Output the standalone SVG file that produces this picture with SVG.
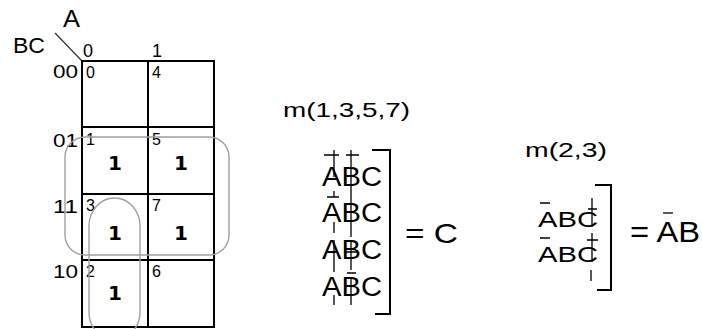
<svg xmlns="http://www.w3.org/2000/svg" width="702" height="329" viewBox="0 0 702 329">
<style>
text{font-family:"Liberation Sans",Arial,sans-serif;fill:#000}
.lbl{font-size:18px}
.num{font-size:16px}
.one{font-family:"DejaVu Sans",Verdana,sans-serif;font-size:20px;font-weight:bold;text-anchor:middle}
.grid{fill:none;stroke:#000;stroke-width:2}
.loop{fill:none;stroke:#a0a0a0;stroke-width:1.4}
.mk{stroke:#000;stroke-width:1.3;fill:none}
.br{fill:none;stroke:#000;stroke-width:2}
</style>
<rect width="702" height="329" fill="#fff"/>
<g id="header">
<text x="63" y="27" font-size="23" textLength="17" lengthAdjust="spacingAndGlyphs">A</text>
<text x="13" y="53" font-size="22" textLength="32" lengthAdjust="spacingAndGlyphs">BC</text>
<line x1="55" y1="33" x2="82" y2="61" stroke="#333" stroke-width="1.2"/>
<text class="lbl" x="83" y="57">0</text>
<text class="lbl" x="152" y="57">1</text>
<text class="lbl" x="53" y="78" textLength="25" lengthAdjust="spacingAndGlyphs">00</text>
<text class="lbl" x="53" y="147" textLength="25" lengthAdjust="spacingAndGlyphs">01</text>
<text class="lbl" x="53" y="213" textLength="25" lengthAdjust="spacingAndGlyphs">11</text>
<text class="lbl" x="53" y="278" textLength="25" lengthAdjust="spacingAndGlyphs">10</text>
</g>
<g id="grid">
<rect class="grid" x="82" y="61" width="132" height="266"/>
<line class="grid" x1="148" y1="61" x2="148" y2="327"/>
<line class="grid" x1="82" y1="127" x2="214" y2="127"/>
<line class="grid" x1="82" y1="194" x2="214" y2="194"/>
<line class="grid" x1="82" y1="260" x2="214" y2="260"/>
</g>
<g id="cell0"><text class="num" x="86" y="78">0</text></g>
<g id="cell4"><text class="num" x="152" y="78">4</text></g>
<g id="cell1"><text class="num" x="86" y="145">1</text><text class="one" x="115" y="170">1</text></g>
<g id="cell5"><text class="num" x="152" y="145">5</text><text class="one" x="181" y="170">1</text></g>
<g id="cell3"><text class="num" x="86" y="211">3</text><text class="one" x="115" y="240">1</text></g>
<g id="cell7"><text class="num" x="152" y="211">7</text><text class="one" x="181" y="240">1</text></g>
<g id="cell2"><text class="num" x="86" y="277">2</text><text class="one" x="115" y="300">1</text></g>
<g id="cell6"><text class="num" x="152" y="277">6</text></g>
<g id="loops">
<rect class="loop" x="65" y="137" width="164" height="118" rx="20" ry="20"/>
<rect class="loop" x="89" y="198" width="51" height="142" rx="25.5" ry="28"/>
</g>
<g id="expr1">
<text x="283" y="117" font-size="20" textLength="127" lengthAdjust="spacingAndGlyphs">m(1,3,5,7)</text>
<text x="322" y="186" font-size="27" textLength="60" lengthAdjust="spacingAndGlyphs">ABC</text>
<text x="322" y="222" font-size="27" textLength="60" lengthAdjust="spacingAndGlyphs">ABC</text>
<text x="322" y="259" font-size="27" textLength="60" lengthAdjust="spacingAndGlyphs">ABC</text>
<text x="322" y="296" font-size="27" textLength="60" lengthAdjust="spacingAndGlyphs">ABC</text>
<path class="mk" d="M324 155H339M346 155H359M334 150V177M351 150V197M327 197H339M334 191V197M334 222V233M351 197V237M334 240V272M345 252H357M351 240V270M347 273H356M334 295V305M351 277V305"/>
<polyline class="br" points="372,150 390,150 390,314 375,314"/>
<text x="405" y="243" font-size="28" textLength="53" lengthAdjust="spacingAndGlyphs">= C</text>
</g>
<g id="expr2">
<text x="525" y="157" font-size="20" textLength="82" lengthAdjust="spacingAndGlyphs">m(2,3)</text>
<text x="538" y="227" font-size="22" textLength="60" lengthAdjust="spacingAndGlyphs">ABC</text>
<text x="538" y="262" font-size="22" textLength="60" lengthAdjust="spacingAndGlyphs">ABC</text>
<path class="mk" d="M540 203H550M540 238H550M592 198V227M588 209H597M587 240H598M592 233V262M591 270V281"/>
<polyline class="br" points="595,185 611,185 611,290 597,290"/>
<text x="630" y="242" font-size="30" textLength="70" lengthAdjust="spacingAndGlyphs">= AB</text>
<path class="mk" d="M663 213H673"/>
</g>
</svg>
